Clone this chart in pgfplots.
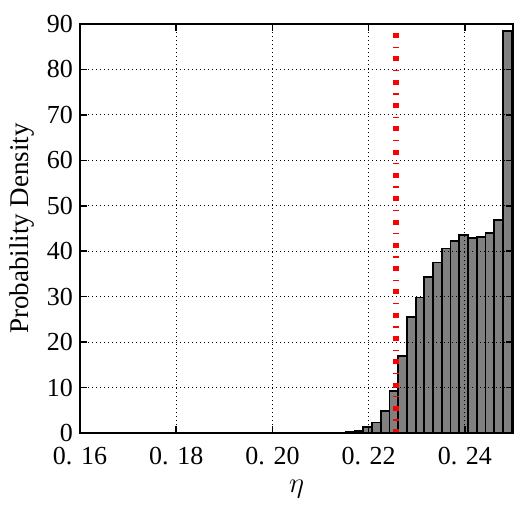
\documentclass[border=0pt]{standalone}
\usepackage{fontspec}
\setmainfont{Liberation Serif}
\usepackage{pgfplots}
\pgfplotsset{compat=1.18}

\begin{document}
\begin{tikzpicture}
\begin{axis}[
  name=ax,
  scale only axis, width=216.5pt, height=204.5pt,
  xmin=0.16, xmax=0.25, ymin=0, ymax=90,
  xtick={0.16,0.18,0.20,0.22,0.24},
  xticklabels={\textrm{0. 16},\textrm{0. 18},\textrm{0. 20},\textrm{0. 22},\textrm{0. 24}},
  ytick={0,10,...,90},
  tick align=inside, tick pos=both, major tick length=3.5pt,
  grid=major,
  major grid style={black, line width=0.5pt, dash pattern=on 0.6pt off 1.4pt},
  axis line style={black, line width=1pt},
  tick style={black, line width=0.8pt},
  ticklabel style={font=\fontsize{13}{15}\selectfont},
  xticklabel style={yshift=-3.5pt},
  /pgf/number format/assume math mode=true,
  axis on top,
  xlabel={$\eta$}, ylabel={Probability Density},
  label style={font=\fontsize{13.5}{16}\selectfont},
  xlabel style={at={(axis description cs:0.5,-0.137)}, anchor=center},
  ylabel style={at={(axis description cs:-0.134,0.5)}, anchor=center},
]
% histogram, left edges of the bins
\addplot[ybar interval, fill=gray, draw=black, line width=0.9pt] coordinates {
(0.21527,0.15)
(0.21708,0.5)
(0.21890,1.25)
(0.22071,2.3)
(0.22252,4.9)
(0.22433,9.3)
(0.22615,16.9)
(0.22796,25.6)
(0.22977,29.8)
(0.23158,34.4)
(0.23340,37.5)
(0.23521,40.6)
(0.23702,42.3)
(0.23883,43.6)
(0.24065,42.9)
(0.24246,43.1)
(0.24427,44.1)
(0.24608,46.9)
(0.24790,88.5)
(0.24971,88.5)
};
% reference value
\addplot[red, line width=3pt, dash pattern=on 2.5pt off 4.25pt on 0.65pt off 4.25pt] coordinates {
(0.2257,88) (0.2257,0)
};
\end{axis}
\path (ax.south west) ++(-40pt,-39pt) rectangle ++(261.5pt,255.5pt);
\end{tikzpicture}
\end{document}
